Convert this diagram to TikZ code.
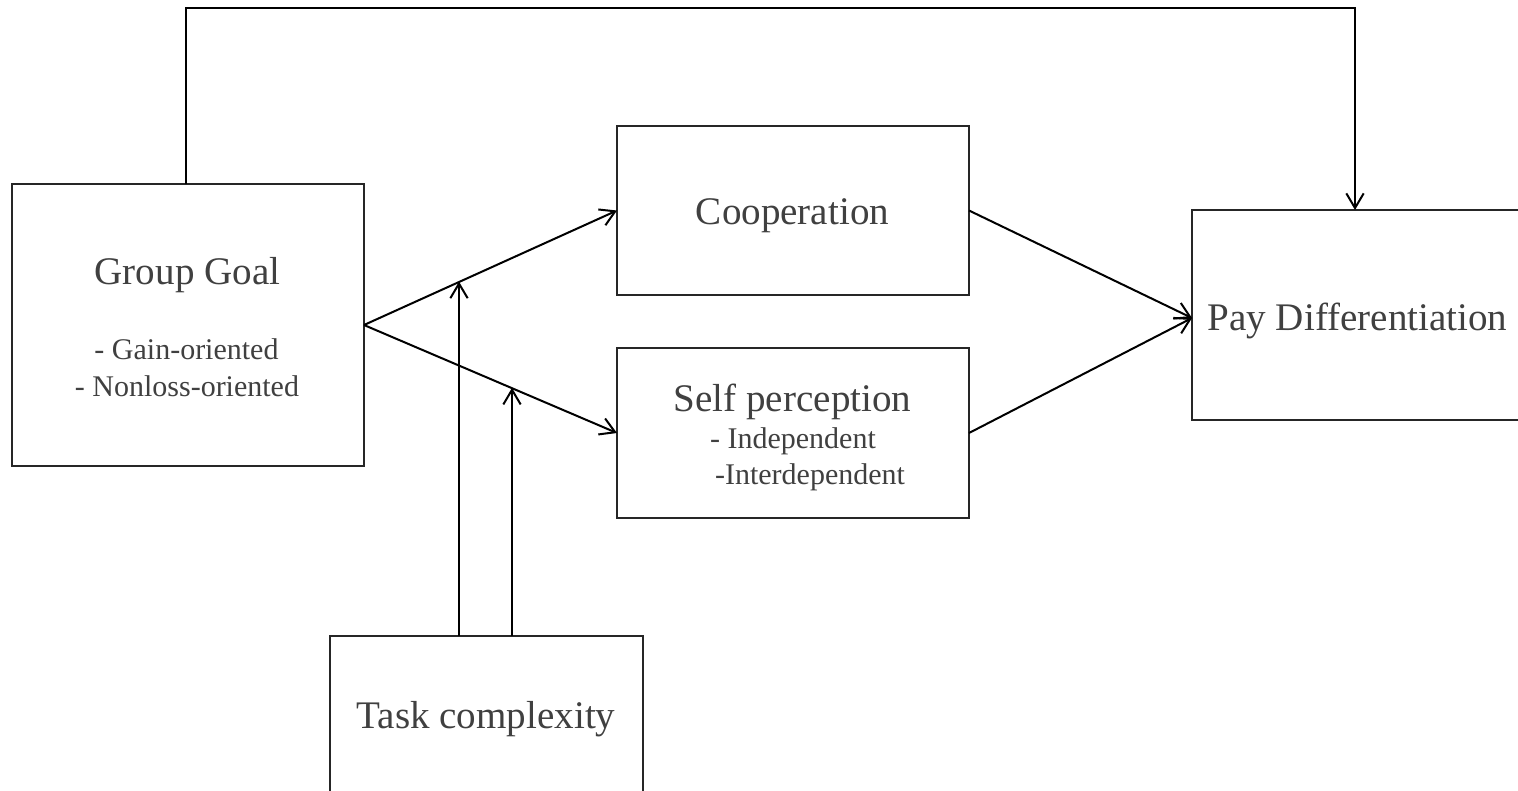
\documentclass[tikz,border=0pt]{standalone}
\usepackage{fontspec}
\setmainfont{Liberation Serif}
\usetikzlibrary{arrows.meta}
\definecolor{txt}{HTML}{404040}
\tikzset{
  box/.style={draw=black!85, line width=1.1pt, rectangle, inner sep=0pt, outer sep=0pt, fill=none},
  arr/.style={draw=black, line width=1.5pt, -{Straight Barb[length=11pt,width=13pt,line width=1.5pt]}},
  title/.style={text=txt, font=\fontsize{29.3}{34}\selectfont, anchor=base, inner sep=0pt},
  sub/.style={text=txt, font=\fontsize{22.5}{27}\selectfont, anchor=base, inner sep=0pt}
}
\begin{document}
\begin{tikzpicture}[x=0.75pt,y=-0.75pt]
\useasboundingbox (0,0) rectangle (1518,790);
\fill[white] (0,0) rectangle (1518,790);
\clip (0,0) rectangle (1518,790);
% boxes
\node[box, minimum width=264pt, minimum height=211.5pt] (gg) at (188,325) {};
\node[box, minimum width=264pt, minimum height=126.75pt] (coop) at (793,210.5) {};
\node[box, minimum width=264pt, minimum height=127.5pt] (self) at (793,433) {};
\node[box, minimum width=255pt, minimum height=157.5pt] (pay) at (1362,315) {};
\node[box, minimum width=234.75pt, minimum height=123pt] (task) at (486.5,718) {};
% texts
\node[title] (ggt) at (187.5,284) {Group Goal};
\node[sub] (gg1) at (186.5,359) {- Gain-oriented};
\node[sub] (gg2) at (187,396) {- Nonloss-oriented};
\node[title] (coopt) at (792.5,224) {Cooperation};
\node[title] (selft) at (792.5,411) {Self perception};
\node[sub] (self1) at (793,448) {- Independent};
\node[sub] (self2) at (810,484) {-Interdependent};
\node[title] (payt) at (1357.5,330) {Pay Differentiation};
\node[title] (taskt) at (486,728) {Task complexity};
% coordinates
\coordinate (top) at (186,8);
\coordinate (payin) at (1355,210);
\coordinate (m1) at (459,281.6);
\coordinate (m2) at (512,387.8);
% connectors
\draw[arr] (186,184) -- (top) -| (payin);
\draw[arr] (gg.east) -- (coop.west);
\draw[arr] (gg.east) -- (self.west);
\draw[arr] (coop.east) -- (1192,318);
\draw[arr] (self.east) -- (1192,318);
\draw[arr] (m1 |- task.north) -- (m1);
\draw[arr] (m2 |- task.north) -- (m2);
\end{tikzpicture}
\end{document}
